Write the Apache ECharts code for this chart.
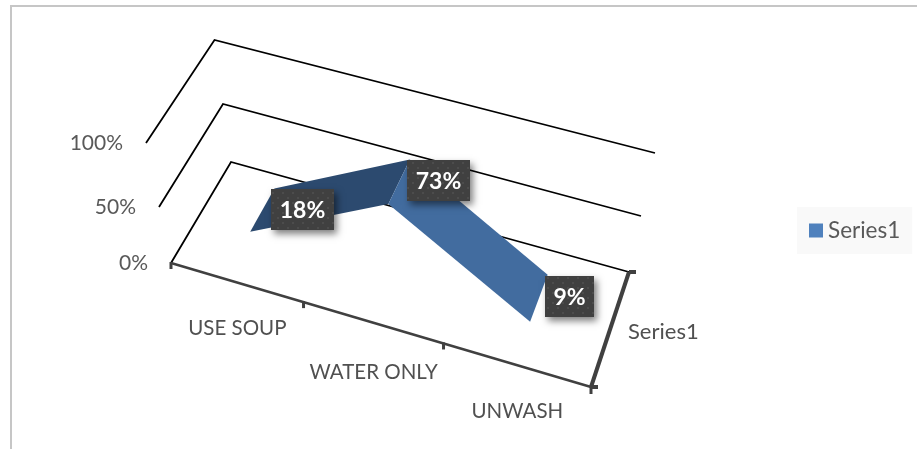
<!DOCTYPE html>
<html>
<head>
<meta charset="utf-8">
<style>html,body{margin:0;padding:0;background:#fff}#c{width:917px;height:450px}</style>
<script src="https://cdn.jsdelivr.net/npm/echarts@6/dist/echarts.min.js"></script>
</head>
<body>
<div id="c"></div>
<script>
const categories = ['USE SOUP', 'WATER ONLY', 'UNWASH'];
const seriesValues = [0.18, 0.73, 0.09];
const valueTicks = [0, 0.5, 1];
const valueTickLabels = ['0%', '50%', '100%'];
const seriesName = 'Series1';
const FONT = 'Lato, "Open Sans", sans-serif';

// Corners of the 3D box at value 0, 50%, 100% (layout of the projection)
const BOX = {
  FL: [[171, 263], [159, 207], [146, 143]],
  BL: [[231, 162], [223, 104], [214.5, 40]],
  BR: [[629, 272], [641, 216], [655, 153]],
  FR: [[591, 387], [605, 327], [621, 262]]
};
const RIBBON_FRONT = 0.29, RIBBON_BACK = 0.71;
const lerp = (a, b, t) => [a[0] + (b[0] - a[0]) * t, a[1] + (b[1] - a[1]) * t];
function corner(c, v) {
  const t = v * 2, i = Math.max(0, Math.min(1, Math.floor(t)));
  return lerp(c[i], c[i + 1], t - i);
}
function project(u, w, v) {
  const uu = u - 0.08 * u * (1 - u);
  return lerp(
    lerp(corner(BOX.FL, v), corner(BOX.FR, v), uu),
    lerp(corner(BOX.BL, v), corner(BOX.BR, v), uu), w);
}
// Library scales -> normalised u (category) and v (value)
function norm(api, params, cat, val) {
  const p = api.coord([cat, val]), g = params.coordSys;
  return [(p[0] - g.x) / g.width, (g.y + g.height - p[1]) / g.height];
}
const line = (a, b, width, color) => ({
  type: 'line', silent: true,
  shape: { x1: a[0], y1: a[1], x2: b[0], y2: b[1] },
  style: { stroke: color, lineWidth: width, lineCap: 'butt' }
});
const text = (t, x, y, size, color, align, weight) => ({
  type: 'text', silent: true,
  style: { text: t, x, y, fill: color, font: (weight || 'normal') + ' ' + size + 'px ' + FONT,
    align: align, verticalAlign: 'middle' }
});

// dotted label texture
const pat = document.createElement('canvas');
pat.width = pat.height = 10;
(function () {
  const c = pat.getContext('2d');
  c.fillStyle = '#404040'; c.fillRect(0, 0, 10, 10);
  c.fillStyle = '#4c4c4c';
  c.fillRect(2, 2, 2, 2); c.fillRect(7, 7, 2, 2);
})();
const measure = document.createElement('canvas').getContext('2d');

const chart = echarts.init(document.getElementById('c'));
chart.setOption({
  animation: false,
  backgroundColor: '#fff',
  grid: { left: 200, top: 100, width: 300, height: 200, show: false },
  xAxis: { type: 'category', data: categories, show: false },
  yAxis: { type: 'value', min: 0, max: 1, interval: 0.5, show: false },
  legend: {
    data: [seriesName], left: 797, top: 207, orient: 'vertical',
    backgroundColor: '#F9F9F9', padding: [12, 12, 12, 12],
    itemWidth: 14, itemHeight: 14, itemGap: 0, icon: 'rect', selectedMode: false,
    textStyle: { color: '#595959', fontSize: 22.5, lineHeight: 22, fontFamily: FONT, padding: [1, 0, 0, 0] }
  },
  graphic: [
    { type: 'rect', shape: { x: 10, y: 5, width: 2, height: 444 }, style: { fill: '#C6C6C6' }, silent: true },
    { type: 'rect', shape: { x: 10, y: 5, width: 907, height: 2 }, style: { fill: '#C6C6C6' }, silent: true }
  ],
  series: [
    { // walls and gridlines for each value tick
      name: 'grid', type: 'custom', z: 2, silent: true,
      data: valueTicks.map((v, i) => [0, v, i]),
      renderItem(params, api) {
        const v = norm(api, params, api.value(0), api.value(1))[1];
        const a = project(0, 0, v), b = project(0, 1, v), c = project(1, 1, v);
        return { type: 'group', children: [
          { type: 'polyline', silent: true, shape: { points: [a, b, c] },
            style: { stroke: '#000', lineWidth: 1.8, fill: null } },
          text(valueTickLabels[api.value(2)], a[0] - 23, a[1], 21, '#595959', 'right')
        ] };
      }
    },
    { // category edge, ticks and labels
      name: 'catAxis', type: 'custom', z: 3, silent: true,
      data: categories.map((c, i) => [i]),
      renderItem(params, api) {
        const i = api.value(0), n = categories.length, color = '#404040';
        const kids = [];
        const u = norm(api, params, i, 0)[0];
        const lab = project(u, 0, 0);
        kids.push(text(categories[i], lab[0] + 1, lab[1] + 46 + (i === 1 ? 4 : 0), 20.5, '#505050', 'center'));
        const e0 = project(i / n, 0, 0);
        kids.push(line([e0[0], e0[1] - 1], [e0[0], e0[1] + 6], 3, color));
        if (i === n - 1) {
          const fr = project(1, 0, 0), br = project(1, 1, 0), fl = project(0, 0, 0);
          kids.push(line(fl, fr, 2.5, color));
          kids.push(line(fr, br, 4, color));
          kids.push(line([fr[0], fr[1] - 1], [fr[0], fr[1] + 7], 3, color));
          kids.push(line([fr[0], fr[1]], [fr[0] + 7, fr[1]], 4, color));
          kids.push(line([br[0], br[1]], [br[0] + 7, br[1]], 4, color));
          kids.push(text(seriesName, (fr[0] + br[0]) / 2 + 18, (fr[1] + br[1]) / 2 + 2, 22, '#505050', 'left'));
        }
        return { type: 'group', children: kids };
      }
    },
    { // ribbon
      name: seriesName, type: 'custom', z: 4, silent: true,
      itemStyle: { color: '#4F81BD' },
      data: seriesValues.map((v, i) => [i, v]),
      renderItem(params, api) {
        const i = api.value(0);
        if (i >= seriesValues.length - 1) return { type: 'group', children: [] };
        const a = norm(api, params, i, api.value(1));
        const b = norm(api, params, i + 1, seriesValues[i + 1]);
        const rising = b[1] > a[1];
        return {
          type: 'polygon', silent: true,
          shape: { points: [
            project(a[0], RIBBON_FRONT, a[1]), project(a[0], RIBBON_BACK, a[1]),
            project(b[0], RIBBON_BACK, b[1]), project(b[0], RIBBON_FRONT, b[1])
          ] },
          style: { fill: rising ? '#2C4A6F' : '#426C9F' }
        };
      }
    },
    { // data labels
      name: 'labels', type: 'custom', z: 5, silent: true,
      data: seriesValues.map((v, i) => [i, v]),
      renderItem(params, api) {
        const n = norm(api, params, api.value(0), api.value(1));
        const p = project(n[0], RIBBON_BACK, n[1]);
        const s = Math.round(api.value(1) * 100) + '%';
        measure.font = 'bold 23px ' + FONT;
        const w = Math.round(measure.measureText(s).width) + 17, h = 41;
        const x = Math.round(p[0]) - 3, y = Math.round(p[1]) + 1;
        return { type: 'group', children: [
          { type: 'rect', silent: true, shape: { x, y, width: w, height: h },
            style: { fill: '#404040', shadowBlur: 7, shadowOffsetX: 3, shadowOffsetY: 4, shadowColor: 'rgba(0,0,0,0.5)' } },
          { type: 'rect', silent: true, shape: { x, y, width: w, height: h },
            style: { fill: { image: pat, repeat: 'repeat' } } },
          text(s, x + w / 2, y + h / 2 + 1, 23, '#fff', 'center', 'bold')
        ] };
      }
    }
  ]
});
</script>
</body>
</html>
